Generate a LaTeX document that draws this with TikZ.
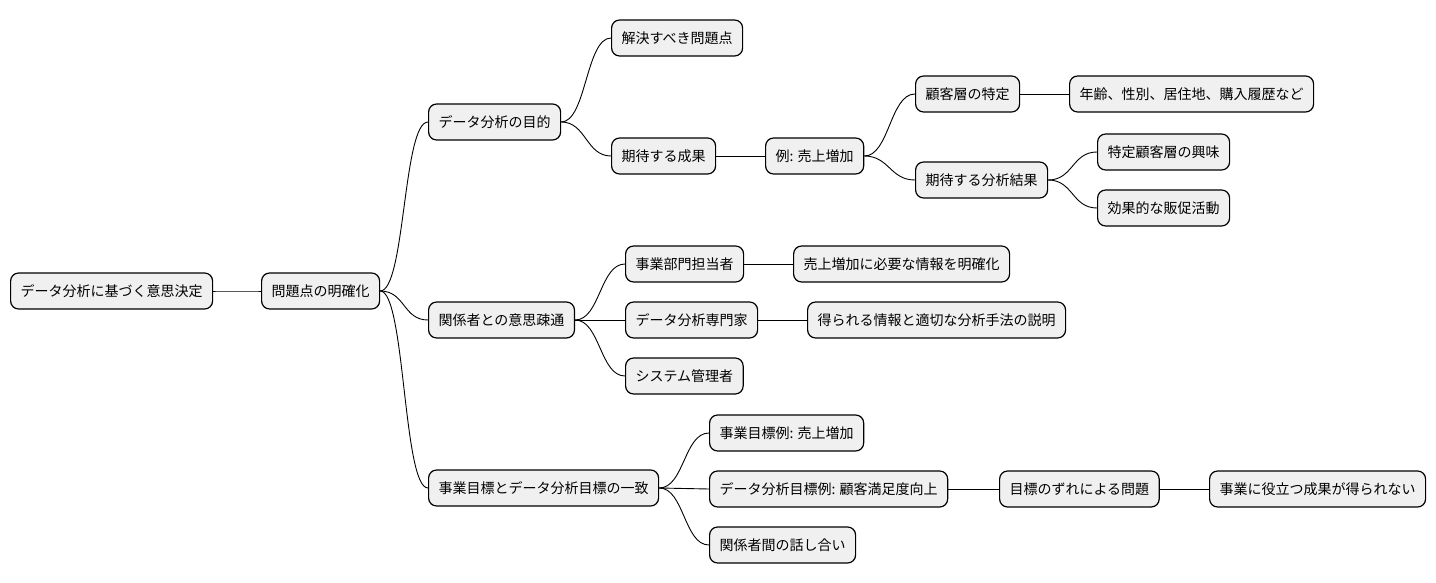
\documentclass[tikz,border=0pt]{standalone}
\usepackage{fontspec}
\setmainfont{Noto Sans CJK JP}
\begin{document}
\begin{tikzpicture}[x=1pt,y=-1pt,
  box/.style={draw=black,line width=1.2pt,fill=black!6,rounded corners=8pt,minimum height=36pt,inner xsep=10pt,anchor=west,font=\fontsize{14}{16}\selectfont},
  con/.style={line width=0.9pt}]
\useasboundingbox (0,0) rectangle (1436,583);
\node[box] (r) at (10,291) {データ分析に基づく意思決定};
\node[box] (m) at (261,291) {問題点の明確化};
\node[box] (a) at (428,122) {データ分析の目的};
\node[box] (a1) at (611,38) {解決すべき問題点};
\node[box] (a2) at (611,156) {期待する成果};
\node[box] (a3) at (765,156) {例: 売上増加};
\node[box] (a4) at (915,94) {顧客層の特定};
\node[box] (a5) at (1069,94) {年齢、性別、居住地、購入履歴など};
\node[box] (a6) at (915,180) {期待する分析結果};
\node[box] (a7) at (1097,152) {特定顧客層の興味};
\node[box] (a8) at (1097,208) {効果的な販促活動};
\node[box] (b) at (428,320) {関係者との意思疎通};
\node[box] (b1) at (625,264) {事業部門担当者};
\node[box] (b2) at (793,264) {売上増加に必要な情報を明確化};
\node[box] (b3) at (625,320) {データ分析専門家};
\node[box] (b4) at (807,320) {得られる情報と適切な分析手法の説明};
\node[box] (b5) at (625,376) {システム管理者};
\node[box] (c) at (428,488) {事業目標とデータ分析目標の一致};
\node[box] (c1) at (709,433) {事業目標例: 売上増加};
\node[box] (c2) at (709,489) {データ分析目標例: 顧客満足度向上};
\node[box] (c3) at (999,489) {目標のずれによる問題};
\node[box] (c4) at (1209,489) {事業に役立つ成果が得られない};
\node[box] (c5) at (709,545) {関係者間の話し合い};
\foreach \p/\c in {r/m,m/a,m/b,m/c,a/a1,a/a2,a2/a3,a3/a4,a4/a5,a3/a6,a6/a7,a6/a8,b/b1,b1/b2,b/b3,b3/b4,b/b5,c/c1,c/c2,c2/c3,c3/c4,c/c5}
  \draw[con] (\p.east) .. controls +(25,0) and +(-25,0) .. (\c.west);
\end{tikzpicture}
\end{document}
